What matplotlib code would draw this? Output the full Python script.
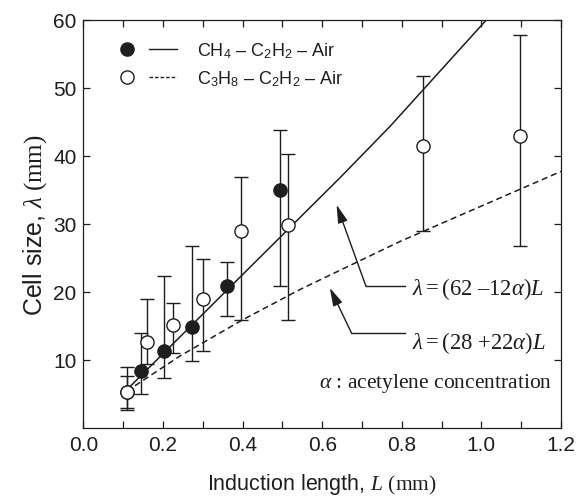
import matplotlib
matplotlib.use("Agg")
import matplotlib.pyplot as plt
import numpy as np
from matplotlib.lines import Line2D
from matplotlib.legend_handler import HandlerTuple

plt.rcParams['font.family'] = ['Liberation Sans', 'DejaVu Sans']
plt.rcParams['mathtext.fontset'] = 'custom'
plt.rcParams['mathtext.rm'] = 'Liberation Serif'
plt.rcParams['mathtext.it'] = 'Liberation Serif:italic'
plt.rcParams['mathtext.bf'] = 'Liberation Serif:bold'
plt.rcParams['mathtext.sf'] = 'Liberation Sans'

INK = '#1e1e1e'

# CH4 - C2H2 - Air (filled)
ch4_L = [0.1085, 0.144, 0.202, 0.272, 0.360, 0.493]
ch4_cell = [5.3, 8.4, 11.3, 14.8, 20.8, 35.0]
ch4_low = [3.0, 5.0, 7.4, 9.9, 16.4, 20.9]
ch4_high = [7.6, 13.9, 22.3, 26.8, 24.4, 43.8]

# C3H8 - C2H2 - Air (open)
c3h8_L = [0.1085, 0.159, 0.226, 0.301, 0.395, 0.515, 0.854, 1.098]
c3h8_cell = [5.3, 12.7, 15.1, 18.9, 29.0, 29.8, 41.5, 42.9]
c3h8_low = [2.7, 9.4, 11.0, 11.3, 15.9, 15.9, 28.9, 26.8]
c3h8_high = [8.9, 18.9, 18.3, 24.8, 36.9, 40.3, 51.7, 57.8]

# Fit curves
fit1_L = [0.1085, 0.645, 0.770, 1.013, 1.03]
fit1_cell = [5.6, 36.8, 44.3, 60.0, 61.1]
fit2_L = [0.1085, 0.243, 0.400, 0.544, 0.795, 1.2]
fit2_cell = [5.4, 10.6, 15.9, 20.35, 27.4, 37.7]

fig = plt.figure(figsize=(5.85, 5.02), dpi=100)
ax = fig.add_axes([0.1427, 0.1454, 0.8163, 0.8134])

ax.plot(fit1_L, fit1_cell, '-', color=INK, lw=1.1, zorder=2)
ax.plot(fit2_L, fit2_cell, '--', color=INK, lw=1.1, dashes=(4, 2.5), zorder=2)

def errs(y, lo, hi):
    y = np.array(y); return [y - np.array(lo), np.array(hi) - y]

ax.errorbar(ch4_L, ch4_cell, yerr=errs(ch4_cell, ch4_low, ch4_high), fmt='none',
            ecolor=INK, elinewidth=1.0, capsize=5, capthick=1.0, zorder=3)
ax.errorbar(c3h8_L, c3h8_cell, yerr=errs(c3h8_cell, c3h8_low, c3h8_high), fmt='none',
            ecolor=INK, elinewidth=1.0, capsize=5, capthick=1.0, zorder=3)
ax.plot(ch4_L, ch4_cell, 'o', ms=9.5, mfc=INK, mec=INK, mew=1.0, zorder=4)
ax.plot(c3h8_L, c3h8_cell, 'o', ms=9.5, mfc='white', mec=INK, mew=1.0, zorder=5)

ax.set_xlim(0, 1.2)
ax.set_ylim(0, 60)
ax.set_xticks(np.arange(0, 1.21, 0.2))
ax.set_xticks(np.arange(0.1, 1.2, 0.2), minor=True)
ax.set_xticklabels([f'{v:.1f}' for v in np.arange(0, 1.21, 0.2)])
ax.set_yticks([10, 20, 30, 40, 50, 60])
ax.tick_params(which='both', direction='in', top=True, right=True, length=5,
               width=0.9, color=INK, labelsize=15, labelcolor=INK, pad=5)
for s in ax.spines.values():
    s.set_linewidth(0.9); s.set_color(INK)

ax.set_xlabel(r'Induction length, $L\ \mathrm{(mm)}$', fontsize=15.5, color=INK, labelpad=12)
ax.set_ylabel(r'Cell size, $\lambda\ \mathrm{(mm)}$', fontsize=18, color=INK, labelpad=3)

# Legend
h1 = (Line2D([], [], marker='o', ls='none', ms=9.5, mfc=INK, mec=INK),
      Line2D([], [], ls='-', color=INK, lw=1.0))
h2 = (Line2D([], [], marker='o', ls='none', ms=9.5, mfc='white', mec=INK),
      Line2D([], [], ls='--', color=INK, lw=1.0, dashes=(2.5, 1.5)))
leg = ax.legend([h1, h2],
                [r'CH$_\mathsf{4}$ – C$_\mathsf{2}$H$_\mathsf{2}$ – Air',
                 r'C$_\mathsf{3}$H$_\mathsf{8}$ – C$_\mathsf{2}$H$_\mathsf{2}$ – Air'],
                handler_map={tuple: HandlerTuple(ndivide=None, pad=0.4)},
                loc='upper left', bbox_to_anchor=(0.062, 0.95), frameon=False,
                borderpad=0, borderaxespad=0,
                fontsize=13, handlelength=3.55, handletextpad=1.1, labelspacing=0.45)
for t in leg.get_texts():
    t.set_color(INK)

# Annotations
arrow = dict(arrowstyle='-|>,head_length=1.1,head_width=0.3', lw=1.0,
             color=INK, shrinkA=0, shrinkB=0, mutation_scale=10)
ax.plot([0.710, 0.808], [20.8, 20.8], color=INK, lw=1.0)
ax.annotate('', xy=(0.636, 32.8), xytext=(0.710, 20.8), arrowprops=arrow)
ax.plot([0.674, 0.808], [13.9, 13.9], color=INK, lw=1.0)
ax.annotate('', xy=(0.619, 20.6), xytext=(0.674, 13.9), arrowprops=arrow)
ax.text(0.826, 20.6, r'$\lambda = (62\ \mathrm{–}12\alpha)L$', fontsize=16.3, color=INK,
        va='center', ha='left')
ax.text(0.826, 12.7, r'$\lambda = (28\ \mathrm{+}22\alpha)L$', fontsize=16.3, color=INK,
        va='center', ha='left')
ax.text(1.178, 6.7, r'$\alpha$ : acetylene concentration', fontsize=15.5, color=INK,
        va='center', ha='right', family='Liberation Serif')

fig.savefig('out.png', dpi=100)
